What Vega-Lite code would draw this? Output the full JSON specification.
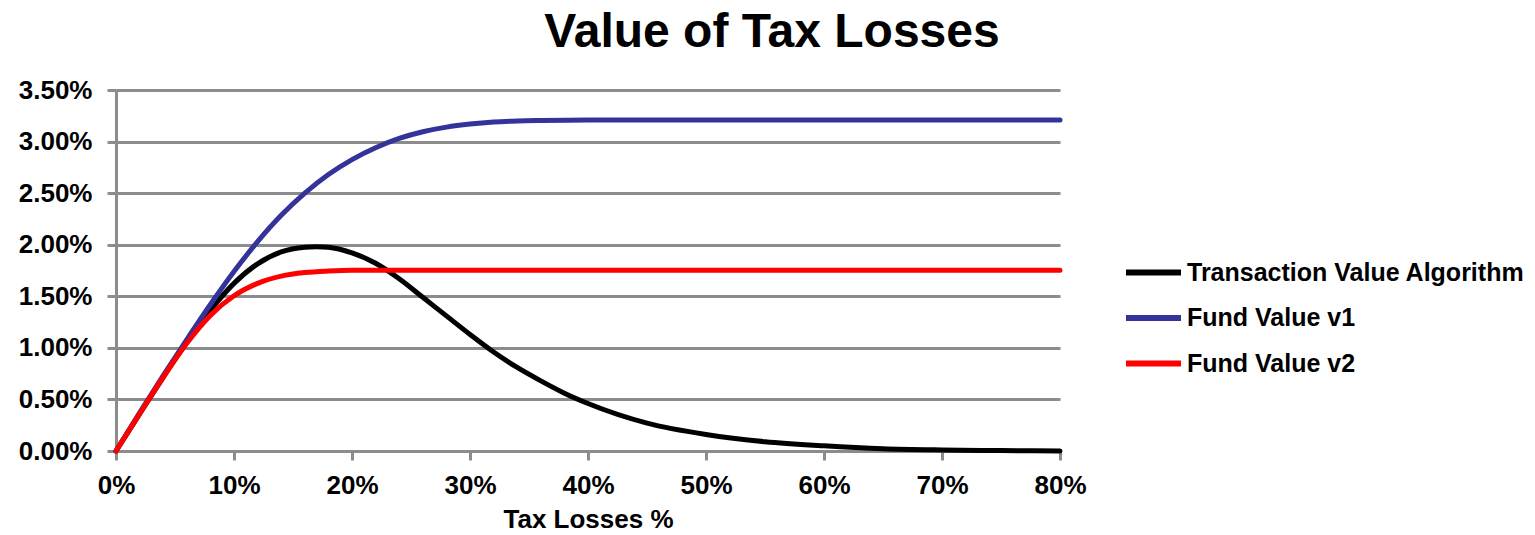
{
  "$schema": "https://vega.github.io/schema/vega-lite/v6.json",
  "width": 944,
  "height": 361,
  "autosize": {"type": "none"},
  "padding": {"left": 116, "top": 90, "right": 475, "bottom": 84},
  "background": "white",
  "title": {
    "text": "Value of Tax Losses",
    "anchor": "middle",
    "frame": "group",
    "dx": 184,
    "fontSize": 48,
    "font": "Liberation Sans",
    "fontWeight": "bold",
    "color": "black",
    "offset": 20
  },
  "data": {
    "values": [
      {"series": "Transaction Value Algorithm", "loss": 0.00, "value": 0.0},
      {"series": "Transaction Value Algorithm", "loss": 0.02, "value": 0.0036},
      {"series": "Transaction Value Algorithm", "loss": 0.04, "value": 0.00715},
      {"series": "Transaction Value Algorithm", "loss": 0.06, "value": 0.01055},
      {"series": "Transaction Value Algorithm", "loss": 0.08, "value": 0.01365},
      {"series": "Transaction Value Algorithm", "loss": 0.10, "value": 0.01625},
      {"series": "Transaction Value Algorithm", "loss": 0.12, "value": 0.01815},
      {"series": "Transaction Value Algorithm", "loss": 0.14, "value": 0.0193},
      {"series": "Transaction Value Algorithm", "loss": 0.16, "value": 0.01975},
      {"series": "Transaction Value Algorithm", "loss": 0.17, "value": 0.0198},
      {"series": "Transaction Value Algorithm", "loss": 0.18, "value": 0.01975},
      {"series": "Transaction Value Algorithm", "loss": 0.20, "value": 0.0192},
      {"series": "Transaction Value Algorithm", "loss": 0.22, "value": 0.0182},
      {"series": "Transaction Value Algorithm", "loss": 0.24, "value": 0.0167},
      {"series": "Transaction Value Algorithm", "loss": 0.26, "value": 0.0149},
      {"series": "Transaction Value Algorithm", "loss": 0.28, "value": 0.0131},
      {"series": "Transaction Value Algorithm", "loss": 0.30, "value": 0.0113},
      {"series": "Transaction Value Algorithm", "loss": 0.32, "value": 0.0096},
      {"series": "Transaction Value Algorithm", "loss": 0.34, "value": 0.0081},
      {"series": "Transaction Value Algorithm", "loss": 0.36, "value": 0.0068},
      {"series": "Transaction Value Algorithm", "loss": 0.38, "value": 0.0056},
      {"series": "Transaction Value Algorithm", "loss": 0.40, "value": 0.0046},
      {"series": "Transaction Value Algorithm", "loss": 0.45, "value": 0.0027},
      {"series": "Transaction Value Algorithm", "loss": 0.50, "value": 0.0016},
      {"series": "Transaction Value Algorithm", "loss": 0.55, "value": 0.0009},
      {"series": "Transaction Value Algorithm", "loss": 0.60, "value": 0.0005},
      {"series": "Transaction Value Algorithm", "loss": 0.65, "value": 0.00022},
      {"series": "Transaction Value Algorithm", "loss": 0.70, "value": 0.0001},
      {"series": "Transaction Value Algorithm", "loss": 0.75, "value": 0.00004},
      {"series": "Transaction Value Algorithm", "loss": 0.80, "value": 0.0},
      {"series": "Fund Value v1", "loss": 0.00, "value": 0.0},
      {"series": "Fund Value v1", "loss": 0.02, "value": 0.0037},
      {"series": "Fund Value v1", "loss": 0.04, "value": 0.0073},
      {"series": "Fund Value v1", "loss": 0.06, "value": 0.0108},
      {"series": "Fund Value v1", "loss": 0.08, "value": 0.0142},
      {"series": "Fund Value v1", "loss": 0.10, "value": 0.0174},
      {"series": "Fund Value v1", "loss": 0.12, "value": 0.0203},
      {"series": "Fund Value v1", "loss": 0.14, "value": 0.02285},
      {"series": "Fund Value v1", "loss": 0.16, "value": 0.0250},
      {"series": "Fund Value v1", "loss": 0.18, "value": 0.0268},
      {"series": "Fund Value v1", "loss": 0.20, "value": 0.02825},
      {"series": "Fund Value v1", "loss": 0.22, "value": 0.0294},
      {"series": "Fund Value v1", "loss": 0.24, "value": 0.0303},
      {"series": "Fund Value v1", "loss": 0.26, "value": 0.03095},
      {"series": "Fund Value v1", "loss": 0.28, "value": 0.0314},
      {"series": "Fund Value v1", "loss": 0.30, "value": 0.0317},
      {"series": "Fund Value v1", "loss": 0.32, "value": 0.0319},
      {"series": "Fund Value v1", "loss": 0.34, "value": 0.0320},
      {"series": "Fund Value v1", "loss": 0.36, "value": 0.03205},
      {"series": "Fund Value v1", "loss": 0.40, "value": 0.0321},
      {"series": "Fund Value v1", "loss": 0.50, "value": 0.0321},
      {"series": "Fund Value v1", "loss": 0.60, "value": 0.0321},
      {"series": "Fund Value v1", "loss": 0.70, "value": 0.0321},
      {"series": "Fund Value v1", "loss": 0.80, "value": 0.0321},
      {"series": "Fund Value v2", "loss": 0.00, "value": 0.0},
      {"series": "Fund Value v2", "loss": 0.02, "value": 0.0036},
      {"series": "Fund Value v2", "loss": 0.04, "value": 0.00715},
      {"series": "Fund Value v2", "loss": 0.06, "value": 0.01045},
      {"series": "Fund Value v2", "loss": 0.08, "value": 0.01315},
      {"series": "Fund Value v2", "loss": 0.10, "value": 0.01505},
      {"series": "Fund Value v2", "loss": 0.12, "value": 0.01625},
      {"series": "Fund Value v2", "loss": 0.14, "value": 0.01695},
      {"series": "Fund Value v2", "loss": 0.16, "value": 0.0173},
      {"series": "Fund Value v2", "loss": 0.18, "value": 0.01745},
      {"series": "Fund Value v2", "loss": 0.20, "value": 0.01752},
      {"series": "Fund Value v2", "loss": 0.25, "value": 0.01752},
      {"series": "Fund Value v2", "loss": 0.40, "value": 0.01752},
      {"series": "Fund Value v2", "loss": 0.60, "value": 0.01752},
      {"series": "Fund Value v2", "loss": 0.80, "value": 0.01752}
    ]
  },
  "mark": {"type": "line", "interpolate": "monotone", "strokeWidth": 5, "strokeCap": "round"},
  "encoding": {
    "x": {
      "field": "loss",
      "type": "quantitative",
      "scale": {"domain": [0, 0.8], "nice": false, "zero": true},
      "axis": {
        "values": [0, 0.1, 0.2, 0.3, 0.4, 0.5, 0.6, 0.7, 0.8],
        "format": ".0%",
        "title": "Tax Losses %",
        "grid": false,
        "labelFlush": false,
        "labelPadding": 12,
        "titlePadding": 8
      }
    },
    "y": {
      "field": "value",
      "type": "quantitative",
      "scale": {"domain": [0, 0.035], "nice": false},
      "axis": {
        "values": [0, 0.005, 0.01, 0.015, 0.02, 0.025, 0.03, 0.035],
        "format": ".2%",
        "title": null,
        "grid": true,
        "labelFlush": false,
        "labelPadding": 15
      }
    },
    "color": {
      "field": "series",
      "type": "nominal",
      "sort": ["Transaction Value Algorithm", "Fund Value v1", "Fund Value v2"],
      "scale": {
        "domain": ["Transaction Value Algorithm", "Fund Value v1", "Fund Value v2"],
        "range": ["#000000", "#333399", "#ff0000"]
      },
      "legend": {
        "title": null,
        "orient": "none",
        "legendX": 1007,
        "legendY": 152,
        "symbolType": "stroke",
        "symbolSize": 3025,
        "symbolStrokeWidth": 6,
        "labelFontSize": 25,
        "labelFont": "Liberation Sans",
        "labelFontWeight": "bold",
        "labelColor": "black",
        "labelOffset": 3,
        "rowPadding": 1.5,
        "padding": 0,
        "labelLimit": 500
      }
    }
  },
  "config": {
    "view": {"stroke": null},
    "axis": {
      "domainColor": "#8c8c8c",
      "domainWidth": 3,
      "gridColor": "#8c8c8c",
      "gridWidth": 3,
      "tickColor": "#8c8c8c",
      "tickWidth": 3,
      "tickSize": 9,
      "labelFont": "Liberation Sans",
      "labelFontWeight": "bold",
      "labelFontSize": 26,
      "labelColor": "black",
      "titleFont": "Liberation Sans",
      "titleFontWeight": "bold",
      "titleFontSize": 26,
      "titleColor": "black"
    }
  }
}
